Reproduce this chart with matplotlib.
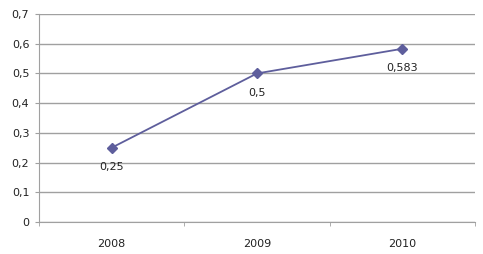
import matplotlib.pyplot as plt
from matplotlib.ticker import FixedLocator

years = ["2008", "2009", "2010"]
values = [0.25, 0.5, 0.583]
labels = ["0,25", "0,5", "0,583"]
yticks = [0, 0.1, 0.2, 0.3, 0.4, 0.5, 0.6, 0.7]

fig = plt.figure(figsize=(4.83, 2.54), dpi=100)
ax = fig.add_axes([39 / 483, 32 / 254, 436 / 483, 208 / 254])

grid_col = "#a0a0a0"
line_col = "#5e5e9c"

x = list(range(len(years)))
ax.plot(x, values, color=line_col, lw=1.3, marker="D", ms=5, zorder=3)
for xi, v, lab in zip(x, values, labels):
    ax.annotate(lab, (xi, v), xytext=(0, -14), textcoords="offset points",
                ha="center", va="center", fontsize=8, color="#222222")

ax.set_xlim(-0.5, 2.5)
ax.set_ylim(0, 0.7)
ax.set_yticks(yticks)
ax.set_yticklabels([("%g" % t).replace(".", ",") for t in yticks])
ax.yaxis.grid(True, color=grid_col, lw=1)
ax.set_axisbelow(True)

ax.set_xticks(x)
ax.set_xticklabels(years)
ax.xaxis.set_minor_locator(FixedLocator([-0.5, 0.5, 1.5, 2.5]))
ax.tick_params(axis="x", which="major", length=0, pad=12, labelsize=8, colors="#222222")
ax.tick_params(axis="x", which="minor", length=3, color=grid_col, direction="out")
ax.tick_params(axis="y", length=3, color=grid_col, labelsize=8, labelcolor="#222222", pad=4)

for side in ["top", "right"]:
    ax.spines[side].set_visible(False)
ax.spines["left"].set_color(grid_col)
ax.spines["bottom"].set_color(grid_col)

fig.savefig("out.png", dpi=100)
